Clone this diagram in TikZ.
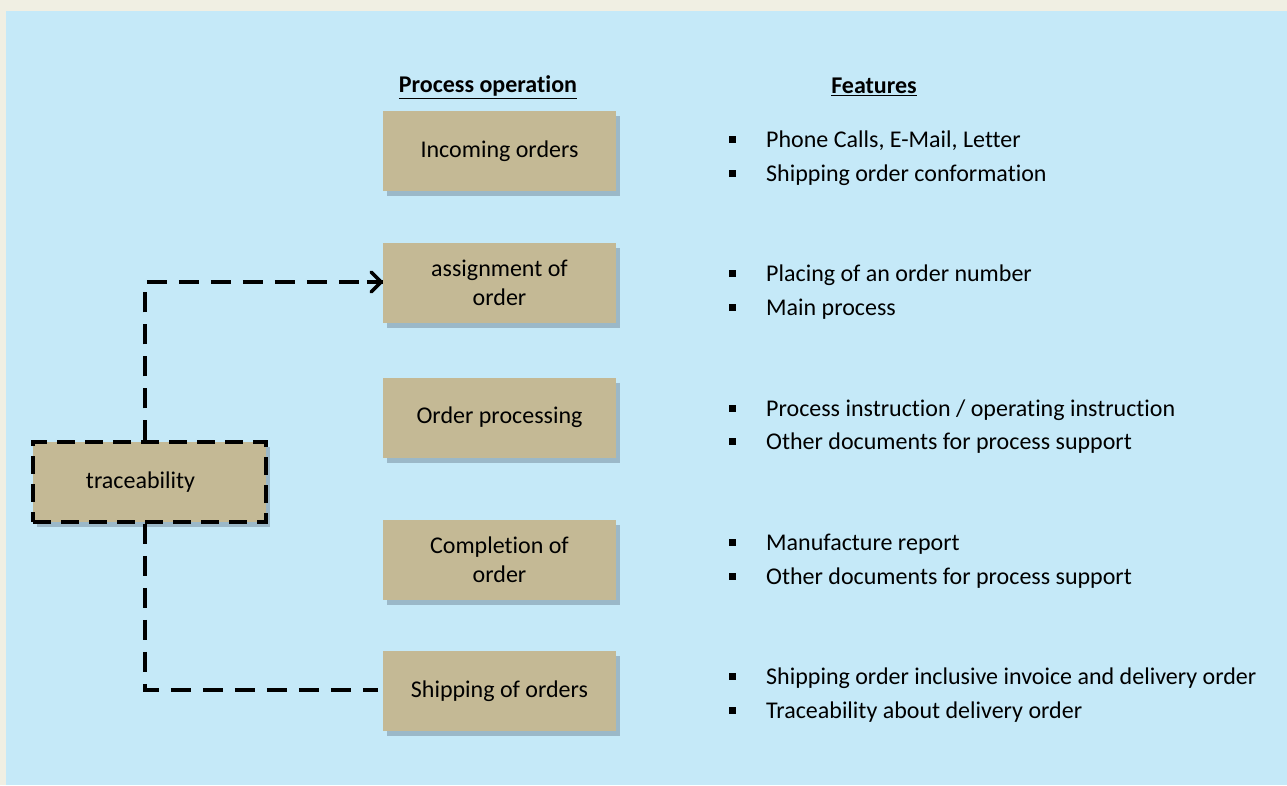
\documentclass[tikz,border=0pt]{standalone}
\usepackage{fontspec}
\setmainfont{Carlito}[RawFeature={-liga}]
\usetikzlibrary{shadows,arrows.meta}
\definecolor{outerbg}{HTML}{F0EFE3}
\definecolor{panelbg}{HTML}{C5E9F8}
\definecolor{boxfill}{HTML}{C4B995}
\definecolor{shadowcol}{HTML}{72889A}
\begin{document}
\begin{tikzpicture}[x=1pt,y=-1pt,
  procbox/.style={fill=boxfill, minimum width=233pt, minimum height=80pt, inner sep=0pt,
    align=center, font=\fontsize{24}{29}\selectfont,
    drop shadow={shadow xshift=4pt, shadow yshift=-5pt, fill=shadowcol, opacity=0.5}},
  tracebox/.style={procbox, align=none, draw=black, line width=3.5pt, dash pattern=on 18pt off 10pt},
  conn/.style={line width=3.5pt, dash pattern=on 20pt off 12pt},
  hdr/.style={font=\fontsize{24}{29}\selectfont\bfseries},
  feat/.style={anchor=west, inner sep=0pt, font=\fontsize{24}{29}\selectfont},
  bul/.style={fill=black, minimum size=7pt, inner sep=0pt}
]
\useasboundingbox (0,0) rectangle (1287,785);
\fill[outerbg] (0,0) rectangle (1287,785);
\fill[panelbg] (6,11) rectangle (1287,785);

\node[hdr] (h1) at (488,87) {\underline{Process operation}};
\node[hdr] (h2) at (874,87) {\underline{Features}};

\node[procbox] (p1) at (499.5,151) {\raisebox{-2pt}{Incoming orders}};
\node[procbox] (p2) at (499.5,282.5) {assignment of\\order};
\node[procbox] (p3) at (499.5,417.5) {\raisebox{-2pt}{Order processing}};
\node[procbox] (p4) at (499.5,560) {Completion of\\order};
\node[procbox] (p5) at (499.5,691) {\raisebox{-2pt}{Shipping of orders}};

\node[tracebox] (t) at (149.5,482) {\raisebox{-2pt}{traceability}\hspace*{18pt}};

\coordinate (c1) at (145,282);
\coordinate (c2) at (145,690);
\draw[conn] (t.north -| c1) -- (c1) -- (p2.west |- c1);
\draw[line width=3.5pt, -{Straight Barb[length=10pt,width=20pt,line cap=round,line join=round]}] ([xshift=-16pt]p2.west |- c1) -- (p2.west |- c1);
\draw[conn] (t.south -| c2) -- (c2) -- ([xshift=-5pt]p5.west |- c2);

\foreach \y/\txt [count=\i] in {
  139/{Phone Calls, E-Mail, Letter},
  173/{Shipping order conformation},
  273/{Placing of an order number},
  307/{Main process},
  408/{Process instruction / operating instruction},
  441/{Other documents for process support},
  542/{Manufacture report},
  576/{Other documents for process support},
  676/{Shipping order inclusive invoice and delivery order},
  710/{Traceability about delivery order}} {
  \node[bul] (b\i) at (732,\y) {};
  \node[feat] (f\i) at (766,\y+2) {\txt};
}
\end{tikzpicture}
\end{document}
